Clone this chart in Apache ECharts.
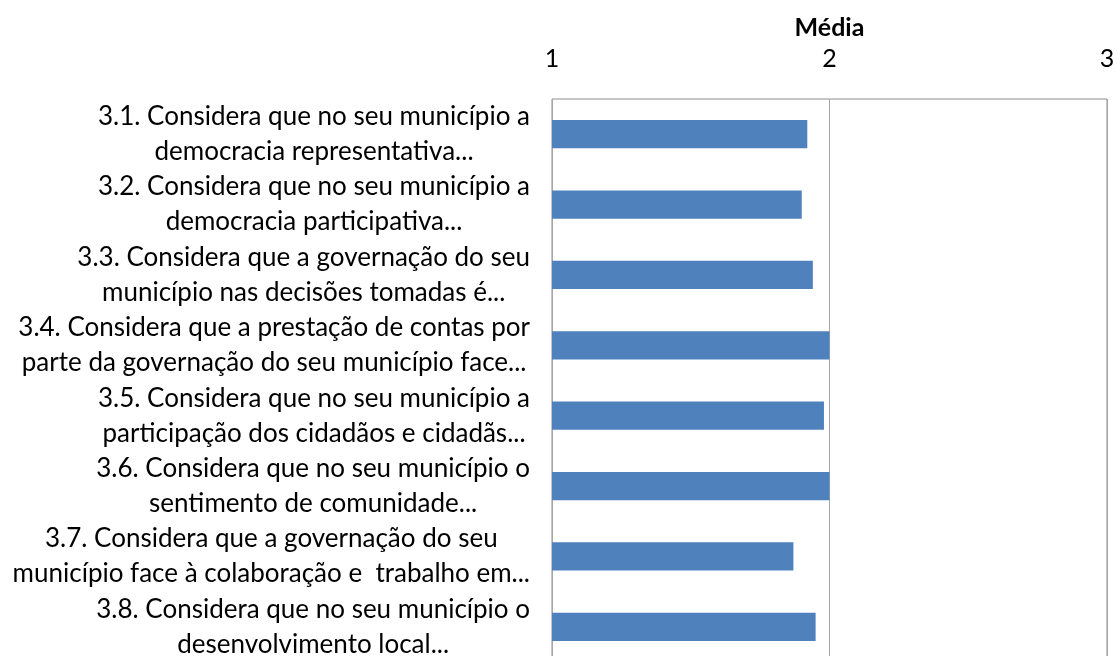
<!DOCTYPE html>
<html>
<head>
<meta charset="utf-8">
<script src="https://cdn.jsdelivr.net/npm/echarts@6/dist/echarts.min.js"></script>
<style>
html,body{margin:0;padding:0;background:#fff;}
#c{width:1117px;height:656px;}
</style>
</head>
<body>
<div id="c"></div>
<script>
const categories = [
  "3.1. Considera que no seu município a\ndemocracia representativa...",
  "3.2. Considera que no seu município a\ndemocracia participativa...",
  "3.3. Considera que a governação do seu\nmunicípio nas decisões tomadas é...",
  "3.4. Considera que a prestação de contas por\nparte da governação do seu município face...",
  "3.5. Considera que no seu município a\nparticipação dos cidadãos e cidadãs...",
  "3.6. Considera que no seu município o\nsentimento de comunidade...",
  "3.7. Considera que a governação do seu\nmunicípio face à colaboração e  trabalho em...",
  "3.8. Considera que no seu município o\ndesenvolvimento local..."
];
const values = [1.92, 1.90, 1.94, 2.00, 1.98, 2.00, 1.87, 1.95];
const axisTitle = "Média";
const xMin = 1, xMax = 3, xStep = 1;

const FONT = "Lato";
const chart = echarts.init(document.getElementById('c'), null, {renderer: 'canvas'});
chart.setOption({
  backgroundColor: '#ffffff',
  animation: false,
  grid: {left: 552, top: 99, width: 555, height: 563, show: true, borderColor: '#8c8c8c', borderWidth: 1, backgroundColor: 'transparent', containLabel: false, outerBoundsMode: 'none'},
  xAxis: {
    type: 'value', position: 'top', min: xMin, max: xMax, interval: xStep,
    name: axisTitle, nameLocation: 'middle', nameGap: 59,
    nameTextStyle: {fontFamily: FONT, fontSize: 25, fontWeight: 'bold', color: '#000'},
    axisLine: {show: false}, axisTick: {show: false},
    axisLabel: {margin: 28, fontFamily: FONT, fontSize: 25, color: '#000'},
    splitLine: {show: true, lineStyle: {color: '#a6a6a6', width: 1}}
  },
  yAxis: {
    type: 'category', inverse: true, data: categories,
    axisLine: {show: false}, axisTick: {show: false}, splitLine: {show: false},
    axisLabel: {
      margin: 22, align: 'right', interval: 0,
      formatter: function (v) {
        return v.split('\n').map(function (s) { return '{c|' + s + '}'; }).join('\n');
      },
      rich: {c: {fontFamily: FONT, fontSize: 26, color: '#000', align: 'center', lineHeight: 35}}
    }
  },
  series: [{
    type: 'bar', data: values, barCategoryGap: '60%',
    itemStyle: {color: '#4f81bd'}
  }]
});
</script>
</body>
</html>
